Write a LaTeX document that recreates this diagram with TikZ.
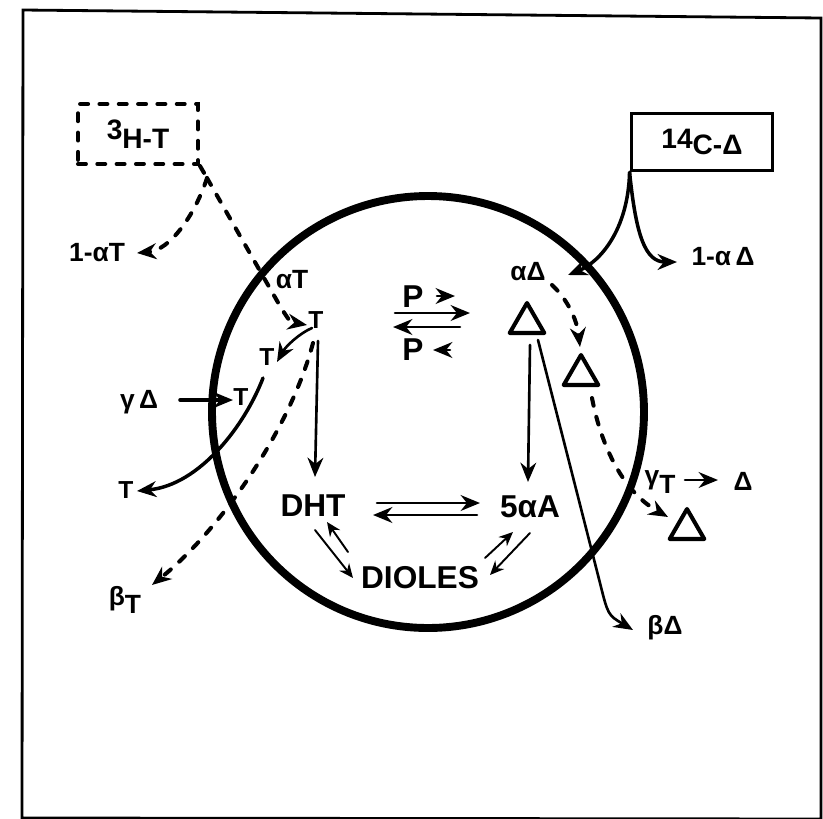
\documentclass[tikz,border=0pt]{standalone}
\usepackage{fontspec}
\setmainfont{Liberation Sans}
\usetikzlibrary{arrows.meta, shapes.geometric}

\begin{document}
\begin{tikzpicture}[x=0.02cm, y=-0.02cm, >={Stealth[length=11pt, width=9pt]}, line cap=round,
    conn/.style={line width=1.5pt},
    thin conn/.style={line width=1.1pt, >={Stealth[length=8pt, width=7pt]}},
    dsh/.style={line width=2.3pt, dash pattern=on 4.5pt off 6.5pt},
    lbl/.style={inner sep=1pt, font=\fontsize{15}{18}\selectfont\bfseries},
    big/.style={inner sep=1pt, font=\fontsize{18}{22}\selectfont\bfseries},
    tsm/.style={inner sep=1pt, font=\fontsize{14}{16}\selectfont\bfseries},
    tri/.style={draw, regular polygon, regular polygon sides=3, minimum size=0.8cm,
        line width=2.3pt, line join=round, inner sep=0pt}]
    \useasboundingbox (0,0) rectangle (823,819);
    % Frame
    \draw[line width=1.6pt] (23,10) -- (821,18) -- (821,819) -- (22,818) -- cycle;

    % Cell
    \draw[line width=4.5pt] (428,412) circle [radius=216];

    % Infused steroids
    \node[draw, dsh, minimum width=2.4cm, minimum height=1.2cm, font=\fontsize{16}{18}\selectfont\bfseries] (hT) at (138,134) {\raisebox{0.6ex}{3}H-T};
    \node[draw, line width=2.2pt, minimum width=2.82cm, minimum height=1.14cm, font=\fontsize{16}{18}\selectfont\bfseries] (cD) at (702,142) {\raisebox{0.4ex}{14}C-Δ};
    \coordinate (jH) at (207,178);

    % Labels, left half
    \node[lbl] (oneaT) at (97,253) {1-αT};
    \node[lbl] (aT) at (292,280) {αT};
    \node[tsm] (T1) at (316,320) {T};
    \node[tsm] (T2) at (267,357) {T};
    \node[tsm] (T3) at (241,397) {T};
    \node[lbl] (gD) at (139,402) {γ\,Δ};
    \node[tsm] (T4) at (126,490) {T};
    \node[lbl] (bT) at (125,600) {β\raisebox{-0.6ex}{T}};

    % Labels, middle
    \node[big] (DHT) at (313,506) {DHT};
    \node[big] (DIOL) at (420,578) {DIOLES};
    \node[big] (fA) at (530,507) {5αA};
    \node[big] (P1) at (413,297) {P};
    \node[big] (P2) at (413,350) {P};

    % Labels, right half
    \node[lbl] (aD) at (528,272) {αΔ};
    \node[lbl] (oneaD) at (723,257) {1-α\,Δ};
    \node[tri] (tri1) at (527,323) {};
    \node[tri] (tri2) at (581,375) {};
    \node[tri] (tri3) at (687,529) {};
    \node[lbl] (gT) at (660,482) {γ\raisebox{-0.6ex}{T}};
    \node[lbl] (D4) at (743,481) {Δ};
    \node[lbl] (bD) at (665,628) {βΔ};

    % Tritiated T paths
    \draw[dsh] (hT.south east) -- (jH);
    \draw[dsh, ->] (jH) .. controls (195,215) and (170,250) .. ([shift={(40,0)}]oneaT.center);
    \draw[dsh, ->] (jH) -- (280,306) .. controls (290,322) .. ([shift={(-9,5)}]T1.center);
    \draw[conn, ->] ([shift={(-4,8)}]T1.center) .. controls (300,333) and (286,346) .. ([shift={(10,5)}]T2.center);
    \draw[line width=2pt, ->] ([shift={(-4,21)}]T2.center) .. controls (245,425) and (200,485) .. ([shift={(11,1)}]T4.center);
    \draw[line width=2pt, ->] ([shift={(41,-2)}]gD.center) -- ([shift={(-8,3)}]T3.center);
    \draw[dsh, ->] ([shift={(-3,23)}]T1.center) .. controls (290,430) and (220,530) .. ([shift={(27,-15)}]bT.center);
    \draw[conn, ->] ([shift={(2,21)}]T1.center) -- ([shift={(2,-29)}]DHT.center);

    % DHT, 5alpha-A and dioles
    \draw[conn, ->] ([shift={(64,-3)}]DHT.center) -- ([shift={(-50,-4)}]fA.center);
    \draw[conn, ->] ([shift={(-53,8)}]fA.center) -- ([shift={(60,9)}]DHT.center);
    \draw[thin conn, ->] ([shift={(2,24)}]DHT.center) -- ([shift={(-67,0)}]DIOL.center);
    \draw[thin conn, ->] ([shift={(-72,-26)}]DIOL.center) -- ([shift={(14,16)}]DHT.center);
    \draw[thin conn, ->] ([shift={(65,-20)}]DIOL.center) -- ([shift={(-17,25)}]fA.center);
    \draw[thin conn, ->] ([shift={(0,26)}]fA.center) -- ([shift={(70,-3)}]DIOL.center);

    % Conversion P
    \draw[conn, ->] ([shift={(24,-1)}]P1.center) -- ([shift={(42,-1)}]P1.center);
    \draw[conn, ->] ([shift={(-18,16)}]P1.center) -- ([shift={(57,16)}]P1.center);
    \draw[conn, ->] ([shift={(47,-23)}]P2.center) -- ([shift={(-20,-23)}]P2.center);
    \draw[conn, ->] ([shift={(37,0)}]P2.center) -- ([shift={(20,0)}]P2.center);

    % Labelled androstenedione paths
    \draw[line width=2pt, ->] (cD.south west) .. controls (628,230) and (600,262) .. ([shift={(40,3)}]aD.center);
    \draw[line width=2pt, ->] (cD.south west) .. controls (636,235) and (645,262) .. ([shift={(-46,5)}]oneaD.center);
    \draw[dsh, ->] ([shift={(24,13)}]aD.center) .. controls (568,300) and (577,320) .. ([shift={(-1,-28)}]tri2.center);
    \draw[dsh, ->] ([shift={(11,23)}]tri2.center) .. controls (600,440) and (620,490) .. ([shift={(-19,-12)}]tri3.center);
    \draw[conn, ->] ([shift={(25,-2)}]gT.center) -- ([shift={(-25,-1)}]D4.center);
    \draw[conn, ->] ([shift={(3,22)}]tri1.center) -- ([shift={(-2,-25)}]fA.center);
    \draw[conn, ->] ([shift={(11,17)}]tri1.center) -- (600,583) .. controls (608,615) .. ([shift={(-32,2)}]bD.center);
\end{tikzpicture}
\end{document}
